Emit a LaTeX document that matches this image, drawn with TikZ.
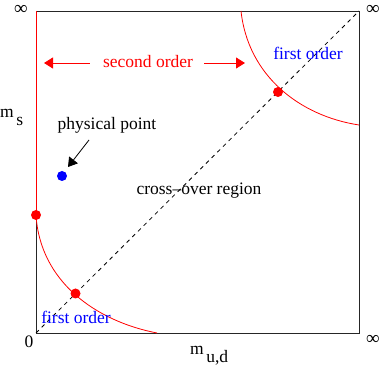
\documentclass[tikz,border=0pt]{standalone}
\usepackage{fontspec}
\setmainfont{Liberation Serif}
\usetikzlibrary{arrows.meta, positioning}

\begin{document}
\begin{tikzpicture}[
    x=1pt, y=1pt,
    lbl/.style={font=\fontsize{17.5}{20}\selectfont, inner sep=0pt, anchor=base},
    inf/.style={font=\fontsize{19}{21}\selectfont, inner sep=0pt, anchor=base},
    rdot/.style={circle, fill=red, inner sep=0pt, minimum size=10pt},
    bnd/.style={red, line width=0.8pt},
    tip/.style={-{Triangle[length=9pt, width=11pt]}}
  ]
  \useasboundingbox (0,0) rectangle (382,366);

  % frame and diagonal
  \coordinate (ll) at (36,33);
  \coordinate (ur) at (359,355);
  \draw[line width=0.8pt, black!85] (ll) rectangle (ur);
  \draw[dash pattern=on 4pt off 4pt, line width=0.8pt] (ll) -- (ur);

  % phase boundaries
  \node[rdot] (tri) at (36,151) {};
  \node[rdot] (low) at (75.5,72.5) {};
  \node[rdot] (upp) at (278,274) {};
  \draw[bnd] (36,355) -- (tri.center);
  \draw[bnd] (tri.center) .. controls (40,85) and (95,45) .. (157,33);
  \draw[bnd] (241,355) .. controls (248,290) and (300,250) .. (359,241);

  % physical point
  \node[circle, fill=blue, inner sep=0pt, minimum size=10pt] (phys) at (62,190) {};
  \node[lbl] (physlbl) at (107,236) {physical point};
  \coordinate (pfrom) at (89,226);
  \coordinate (pto) at (68,199);
  \draw[tip, line width=0.8pt] (pfrom) -- (pto);

  % regions
  \node[lbl, red] (second) at (148,298) {second order};
  \coordinate (sl) at (44,303);
  \coordinate (sr) at (245,303);
  \draw[tip, bnd] (second.west |- sl) ++(-13,0) -- (sl);
  \draw[tip, bnd] (second.east |- sr) ++(11,0) -- (sr);
  \node[lbl, blue] (fo1) at (308,306) {first order};
  \node[lbl, blue] (fo2) at (76,42) {first order};
  \node[lbl] (cross) at (199,171) {cross--over region};

  % axes
  \node[inf] (inf1) at (21,351) {∞};
  \node[inf] (inf2) at (373,351) {∞};
  \node[inf] (inf3) at (373,21) {∞};
  \node[lbl] (zero) at (29,18) {0};
  \node[lbl, anchor=base west] (ms) at (0,248) {m\hspace{2.5pt}\raisebox{-8pt}{s}};
  \node[lbl, anchor=base west] (mud) at (190,12) {m\hspace{2.5pt}\raisebox{-9pt}{u,d}};
\end{tikzpicture}
\end{document}
